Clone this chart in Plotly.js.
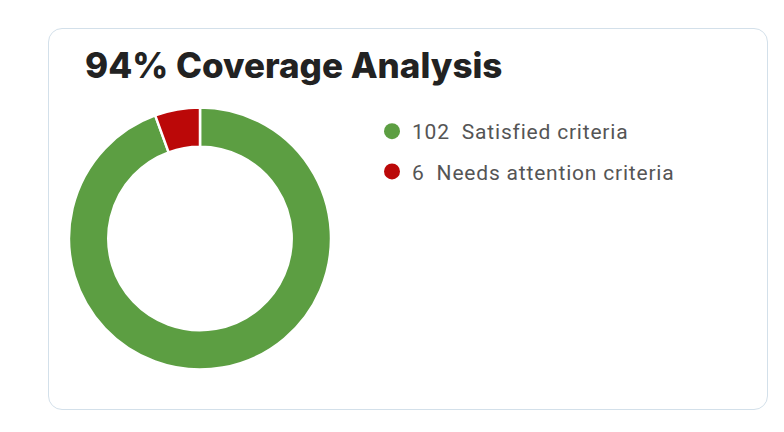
<!DOCTYPE html>
<html>
<head>
<meta charset="utf-8">
<script src="https://cdn.plot.ly/plotly-3.0.1.min.js"></script>
<style>
  html, body { margin: 0; padding: 0; background: #ffffff; }
  #card { position: absolute; left: 48px; top: 28px; width: 718px; height: 380px;
          border: 1px solid #d3e0ea; border-radius: 14px; background: #fff; }
  #chart { position: absolute; left: 0; top: 0; width: 784px; height: 432px; }
  #chart .legendtext { letter-spacing: 0.8px; }
  #chart .legend .scrollbox { clip-path: none !important; }
</style>
</head>
<body>
<div id="card"></div>
<div id="chart"></div>
<script>
const categories = ["Satisfied criteria", "Needs attention criteria"];
const counts = [102, 6];
const colors = ["#5c9e42", "#bb0808"];
const titleText = "94% Coverage Analysis";

const pieTrace = {
  type: "pie",
  labels: categories,
  values: counts,
  sort: false,
  direction: "clockwise",
  rotation: 0,
  hole: 0.70,
  textinfo: "none",
  hoverinfo: "label+value",
  showlegend: false,
  marker: { colors: colors, line: { color: "#ffffff", width: 2.5 } },
  domain: { x: [(200 - 131) / 784, (200 + 131) / 784], y: [(193.5 - 131) / 432, (193.5 + 131) / 432] }
};

const legendTraces = categories.map((c, i) => ({
  type: "scatter",
  mode: "markers",
  x: [null], y: [null],
  name: counts[i] + "\u00a0 " + c,
  legendgroup: "g" + i,
  marker: { color: colors[i], size: 16, symbol: "circle" },
  hoverinfo: "skip"
}));

const layout = {
  width: 784, height: 432,
  margin: { l: 0, r: 0, t: 0, b: 0 },
  paper_bgcolor: "rgba(0,0,0,0)",
  plot_bgcolor: "rgba(0,0,0,0)",
  title: {
    text: titleText,
    font: { family: "Inter, sans-serif", size: 35, weight: 800, color: "#222222" },
    x: 85 / 784, xref: "paper", xanchor: "left",
    y: 1 - 53 / 432, yref: "paper", yanchor: "top"
  },
  xaxis: { visible: false, domain: [0.6, 0.61] },
  yaxis: { visible: false, domain: [0.6, 0.61] },
  showlegend: true,
  legend: {
    x: 372 / 784, xanchor: "left",
    y: 1 - 111 / 432, yanchor: "top",
    font: { family: "Roboto, sans-serif", size: 21, color: "#555555" },
    traceorder: "grouped",
    tracegroupgap: 10,
    bgcolor: "rgba(0,0,0,0)",
    itemclick: false, itemdoubleclick: false
  }
};

Plotly.newPlot("chart", [pieTrace].concat(legendTraces), layout, { displayModeBar: false, staticPlot: true });
</script>
</body>
</html>
